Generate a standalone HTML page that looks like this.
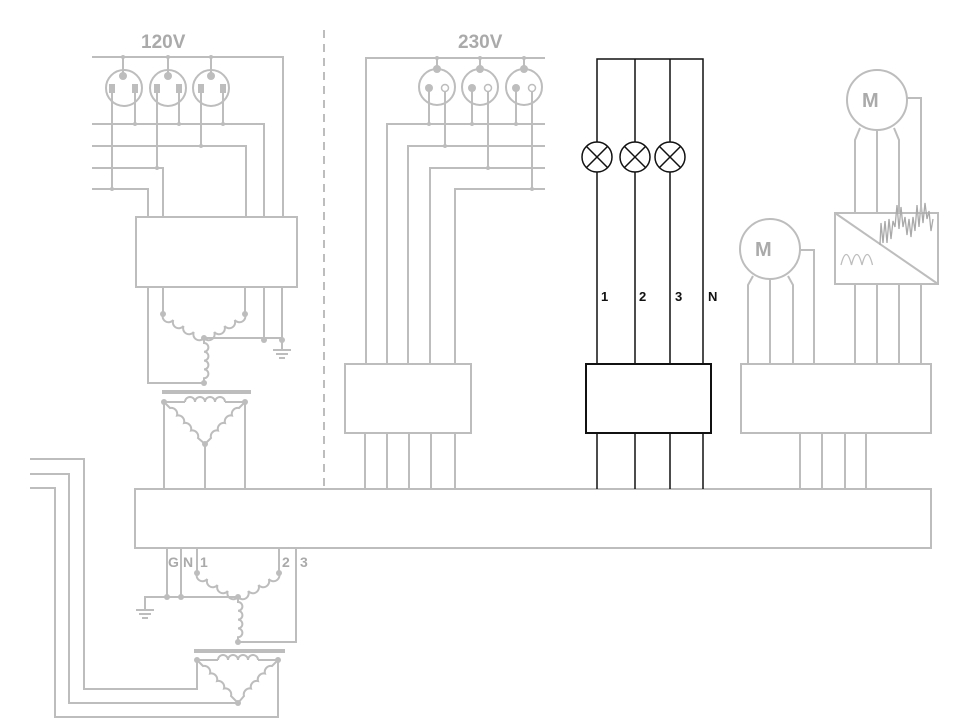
<!DOCTYPE html>
<html><head><meta charset="utf-8"><style>
html,body{margin:0;padding:0;background:#fff}
svg{display:block}
text{font-family:"Liberation Sans",sans-serif;font-weight:bold}
</style></head><body>
<svg width="965" height="725" viewBox="0 0 965 725" xmlns="http://www.w3.org/2000/svg">
<g fill="none" stroke="#bdbdbd" stroke-width="2">
<!-- 120V section -->
<polyline points="92,57 283,57 283,217"/>
<line x1="123" y1="57" x2="123" y2="76"/><line x1="168" y1="57" x2="168" y2="76"/><line x1="211" y1="57" x2="211" y2="76"/>
<circle cx="124" cy="88" r="18"/><circle cx="168" cy="88" r="18"/><circle cx="211" cy="88" r="18"/>
<polyline points="92,124 264,124 264,217"/>
<polyline points="92,146 246,146 246,217"/>
<polyline points="92,168 163,168 163,217"/>
<polyline points="92,189 148,189 148,217"/>
<line x1="112" y1="90" x2="112" y2="189"/><line x1="135" y1="90" x2="135" y2="124"/>
<line x1="157" y1="90" x2="157" y2="168"/><line x1="179" y1="90" x2="179" y2="124"/>
<line x1="201" y1="90" x2="201" y2="146"/><line x1="223" y1="90" x2="223" y2="124"/>
<rect x="136" y="217" width="161" height="70"/>
<polyline points="148,287 148,383 204,383"/>
<line x1="163" y1="287" x2="163" y2="314"/><line x1="245" y1="287" x2="245" y2="314"/>
<path d="M163 314 a6 6 0 0 0 10.25 6 a6 6 0 0 0 10.25 6 a6 6 0 0 0 10.25 6 a6 6 0 0 0 10.25 6"/>
<path d="M245 314 a6 6 0 0 1 -10.25 6 a6 6 0 0 1 -10.25 6 a6 6 0 0 1 -10.25 6 a6 6 0 0 1 -10.25 6"/>
<polyline points="204,338 282,338 282,350"/>
<line x1="264" y1="338" x2="264" y2="287"/><line x1="282" y1="338" x2="282" y2="287"/>
<line x1="273" y1="350" x2="291" y2="350"/><line x1="276" y1="354" x2="288" y2="354"/><line x1="279" y1="358" x2="285" y2="358"/>
<path d="M204 338 v5 a4.4 4.4 0 0 1 0 8.8 a4.4 4.4 0 0 1 0 8.8 a4.4 4.4 0 0 1 0 8.8 a4.4 4.4 0 0 1 0 8.8 v4"/>
<line x1="162" y1="392" x2="251" y2="392" stroke-width="4"/>
<polyline points="164,402 185,402"/><polyline points="225,402 245,402"/>
<path d="M185 402 a5 5 0 0 1 10 0 a5 5 0 0 1 10 0 a5 5 0 0 1 10 0 a5 5 0 0 1 10 0"/>
<path d="M164 402 L170 408 a6 6 0 0 1 7 7.5 a6 6 0 0 1 7 7.5 a6 6 0 0 1 7 7.5 a6 6 0 0 1 7 7.5 L205 444"/>
<path d="M245 402 L239 408 a6 6 0 0 0 -7 7.5 a6 6 0 0 0 -7 7.5 a6 6 0 0 0 -7 7.5 a6 6 0 0 0 -7 7.5 L205 444"/>
<line x1="164" y1="402" x2="164" y2="489"/><line x1="205" y1="444" x2="205" y2="489"/><line x1="245" y1="402" x2="245" y2="489"/>
<!-- dashed divider -->
<line x1="324" y1="30" x2="324" y2="489" stroke-dasharray="8,6"/>
<!-- 230V section -->
<polyline points="545,58 366,58 366,364"/>
<line x1="437" y1="58" x2="437" y2="69"/><line x1="480" y1="58" x2="480" y2="69"/><line x1="524" y1="58" x2="524" y2="69"/>
<circle cx="437" cy="87" r="18"/><circle cx="480" cy="87" r="18"/><circle cx="524" cy="87" r="18"/>
<polyline points="545,124 387,124 387,364"/>
<polyline points="545,146 408,146 408,364"/>
<polyline points="545,168 430,168 430,364"/>
<polyline points="545,189 455,189 455,364"/>
<line x1="429" y1="88" x2="429" y2="124"/><line x1="445" y1="91" x2="445" y2="146"/>
<line x1="472" y1="88" x2="472" y2="124"/><line x1="488" y1="91" x2="488" y2="168"/>
<line x1="516" y1="88" x2="516" y2="124"/><line x1="532" y1="91" x2="532" y2="189"/>
<rect x="345" y="364" width="126" height="69"/>
<line x1="365" y1="433" x2="365" y2="489"/><line x1="387" y1="433" x2="387" y2="489"/><line x1="409" y1="433" x2="409" y2="489"/><line x1="431" y1="433" x2="431" y2="489"/><line x1="455" y1="433" x2="455" y2="489"/>
<!-- right section -->
<rect x="741" y="364" width="190" height="69"/>
<circle cx="770" cy="249" r="30"/>
<circle cx="877" cy="100" r="30"/>
<rect x="835" y="213" width="103" height="71"/>
<line x1="835" y1="213" x2="938" y2="284"/>
<path d="M841 265 c3.5 -14 7 -14 10.5 0 c3.5 -14 7 -14 10.5 0 c3.5 -14 7 -14 10.5 0" stroke-width="1.3"/>
<path d="M880 245 l1 -22 l2 20 l2 -22 l2 22 l2 -24 l2 20 l2 -18 l2 6 l2 -22 l2 24 l2 -22 l2 20 l2 -10 l2 18 l2 -16 l2 18 l2 -20 l2 14 l2 -26 l2 22 l2 -24 l2 20 l2 -20 l2 16 l2 -8 l2 20 l2 -12" stroke="#aaa" stroke-width="1.3"/>
<polyline points="855,213 855,140 860,128"/><line x1="877" y1="130" x2="877" y2="213"/><polyline points="899,213 899,140 894,128"/>
<polyline points="907,98 921,98 921,213"/>
<line x1="855" y1="284" x2="855" y2="364"/><line x1="877" y1="284" x2="877" y2="364"/><line x1="899" y1="284" x2="899" y2="364"/><line x1="921" y1="284" x2="921" y2="364"/>
<polyline points="748,364 748,285 753,276"/><line x1="770" y1="279" x2="770" y2="364"/><polyline points="793,364 793,285 788,276"/>
<polyline points="800,250 814,250 814,364"/>
<line x1="800" y1="433" x2="800" y2="489"/><line x1="822" y1="433" x2="822" y2="489"/><line x1="845" y1="433" x2="845" y2="489"/><line x1="866" y1="433" x2="866" y2="489"/>
<!-- bus -->
<rect x="135" y="489" width="796" height="59"/>
<!-- bottom -->
<line x1="167" y1="548" x2="167" y2="597"/><line x1="181" y1="548" x2="181" y2="597"/>
<line x1="197" y1="548" x2="197" y2="573"/><line x1="279" y1="548" x2="279" y2="573"/>
<polyline points="296,548 296,642 238,642"/>
<polyline points="238,597 145,597 145,610"/>
<line x1="136" y1="610" x2="154" y2="610"/><line x1="139" y1="614" x2="151" y2="614"/><line x1="142" y1="618" x2="148" y2="618"/>
<path d="M197 573 a6 6 0 0 0 10.25 6 a6 6 0 0 0 10.25 6 a6 6 0 0 0 10.25 6 a6 6 0 0 0 10.25 6"/>
<path d="M279 573 a6 6 0 0 1 -10.25 6 a6 6 0 0 1 -10.25 6 a6 6 0 0 1 -10.25 6 a6 6 0 0 1 -10.25 6"/>
<path d="M238 597 v5 a4.4 4.4 0 0 1 0 8.8 a4.4 4.4 0 0 1 0 8.8 a4.4 4.4 0 0 1 0 8.8 a4.4 4.4 0 0 1 0 8.8 v3"/>
<line x1="194" y1="651" x2="285" y2="651" stroke-width="4"/>
<polyline points="197,660 218,660"/><polyline points="258,660 278,660"/>
<path d="M218 660 a5 5 0 0 1 10 0 a5 5 0 0 1 10 0 a5 5 0 0 1 10 0 a5 5 0 0 1 10 0"/>
<path d="M197 660 L203 666 a6 6 0 0 1 7 7.5 a6 6 0 0 1 7 7.5 a6 6 0 0 1 7 7.5 a6 6 0 0 1 7 7.5 L238 703"/>
<path d="M278 660 L272 666 a6 6 0 0 0 -7 7.5 a6 6 0 0 0 -7 7.5 a6 6 0 0 0 -7 7.5 a6 6 0 0 0 -7 7.5 L238 703"/>
<polyline points="30,459 84,459 84,689 197,689 197,660"/>
<polyline points="30,474 69,474 69,703 238,703"/>
<polyline points="30,488 55,488 55,717 278,717 278,660"/>
</g>
<g fill="#bdbdbd">
<rect x="109" y="84" width="6" height="9"/><rect x="132" y="84" width="6" height="9"/>
<rect x="154" y="84" width="6" height="9"/><rect x="176" y="84" width="6" height="9"/>
<rect x="198" y="84" width="6" height="9"/><rect x="220" y="84" width="6" height="9"/>
<circle cx="123" cy="76" r="4"/><circle cx="168" cy="76" r="4"/><circle cx="211" cy="76" r="4"/>
<circle cx="123" cy="57" r="2"/><circle cx="168" cy="57" r="2"/><circle cx="211" cy="57" r="2"/>
<circle cx="135" cy="124" r="2"/><circle cx="179" cy="124" r="2"/><circle cx="223" cy="124" r="2"/>
<circle cx="201" cy="146" r="2"/><circle cx="157" cy="168" r="2"/><circle cx="112" cy="189" r="2"/>
<circle cx="163" cy="314" r="3"/><circle cx="245" cy="314" r="3"/><circle cx="204" cy="338" r="3"/>
<circle cx="264" cy="340" r="3"/><circle cx="282" cy="340" r="3"/><circle cx="204" cy="383" r="3"/>
<circle cx="164" cy="402" r="3"/><circle cx="245" cy="402" r="3"/><circle cx="205" cy="444" r="3"/>
<circle cx="437" cy="69" r="4"/><circle cx="480" cy="69" r="4"/><circle cx="524" cy="69" r="4"/>
<circle cx="437" cy="58" r="2"/><circle cx="480" cy="58" r="2"/><circle cx="524" cy="58" r="2"/>
<circle cx="429" cy="88" r="4"/><circle cx="472" cy="88" r="4"/><circle cx="516" cy="88" r="4"/>
<circle cx="429" cy="124" r="2"/><circle cx="472" cy="124" r="2"/><circle cx="516" cy="124" r="2"/>
<circle cx="445" cy="146" r="2"/><circle cx="488" cy="168" r="2"/><circle cx="532" cy="189" r="2"/>
<circle cx="167" cy="597" r="3"/><circle cx="181" cy="597" r="3"/><circle cx="238" cy="597" r="3"/>
<circle cx="197" cy="573" r="3"/><circle cx="279" cy="573" r="3"/><circle cx="238" cy="642" r="3"/>
<circle cx="197" cy="660" r="3"/><circle cx="278" cy="660" r="3"/><circle cx="238" cy="703" r="3"/>
</g>
<g fill="#fff" stroke="#bdbdbd" stroke-width="1.5">
<circle cx="445" cy="88" r="3.5"/><circle cx="488" cy="88" r="3.5"/><circle cx="532" cy="88" r="3.5"/>
</g>
<g fill="#aaa">
<text x="141" y="48" font-size="19">120V</text>
<text x="458" y="48" font-size="19">230V</text>
<text x="755" y="256" font-size="20">M</text>
<text x="862" y="107" font-size="20">M</text>
<text x="168" y="567" font-size="14">G</text>
<text x="183" y="567" font-size="14">N</text>
<text x="200" y="567" font-size="14">1</text>
<text x="282" y="567" font-size="14">2</text>
<text x="300" y="567" font-size="14">3</text>
</g>
<!-- black circuit -->
<g fill="none" stroke="#111" stroke-width="1.5">
<polyline points="597,142 597,59 703,59 703,364"/>
<line x1="635" y1="59" x2="635" y2="142"/><line x1="670" y1="59" x2="670" y2="142"/>
<line x1="597" y1="172" x2="597" y2="364"/><line x1="635" y1="172" x2="635" y2="364"/><line x1="670" y1="172" x2="670" y2="364"/>
<circle cx="597" cy="157" r="15"/><circle cx="635" cy="157" r="15"/><circle cx="670" cy="157" r="15"/>
<path d="M586.4 146.4 L607.6 167.6 M607.6 146.4 L586.4 167.6 M624.4 146.4 L645.6 167.6 M645.6 146.4 L624.4 167.6 M659.4 146.4 L680.6 167.6 M680.6 146.4 L659.4 167.6"/>
<rect x="586" y="364" width="125" height="69" stroke-width="2"/>
<line x1="597" y1="433" x2="597" y2="489"/><line x1="635" y1="433" x2="635" y2="489"/><line x1="670" y1="433" x2="670" y2="489"/><line x1="703" y1="433" x2="703" y2="489"/>
</g>
<g fill="#111" font-size="13">
<text x="601" y="301">1</text><text x="639" y="301">2</text><text x="675" y="301">3</text><text x="708" y="301">N</text>
</g>
</svg>
</body></html>
